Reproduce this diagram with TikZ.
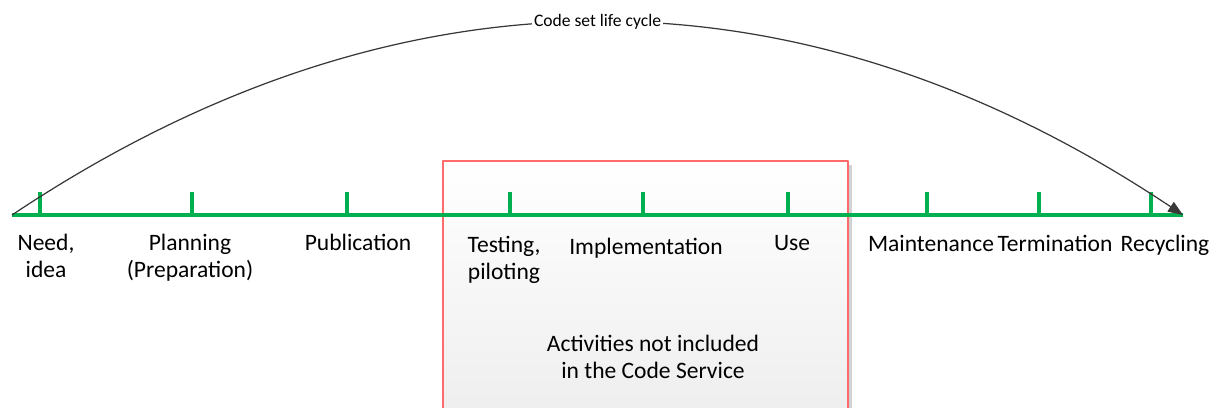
\documentclass[tikz,border=0pt]{standalone}
\usepackage{fontspec}
\setmainfont{Carlito}
\usetikzlibrary{arrows.meta}
\definecolor{lineGreen}{HTML}{00B050}
\definecolor{boxRed}{HTML}{FF6B6B}
\definecolor{arcGray}{HTML}{383838}
\begin{document}
\begin{tikzpicture}[x=0.02cm,y=-0.02cm,line join=round,
    phase/.style={font=\fontsize{13.4}{15}\selectfont,align=center,anchor=base,inner sep=0pt},
    tickmark/.style={draw=lineGreen,line width=2pt},
    timeline/.style={draw=lineGreen,line width=2pt},
    lifearc/.style={draw=arcGray,line width=0.7pt,-{Triangle[length=8.5pt,width=6.5pt]}}]
  \useasboundingbox (0,0) rectangle (1222,408);
  \clip (0,0) rectangle (1222,408);
  % area outside the code service
  \fill[gray!35] (447,165) rectangle (852,430);
  \shadedraw[top color=white,bottom color=gray!14,draw=boxRed,line width=0.6pt] (443,161) rectangle (848,430);
  \node[phase] (excl) at (653,378) {Activities not included\\in the Code Service};
  % timeline
  \coordinate (start) at (12,215);
  \coordinate (end) at (1183,215);
  \draw[timeline] (start) -- (end);
  \foreach \x/\n in {40/need,192/plan,347/pub,510/test,643/impl,788/use,927/maint,1039/term,1151/recyc}{
      \path (\x,215) coordinate (\n);
      \draw[tickmark] (\n) -- ++(0,-23);
  }
  % labels (base = last line)
  \foreach \x/\y/\n/\t in {46/277/needL/{Need,\\idea},190/277/planL/{Planning\\(Preparation)},
    358/251/pubL/Publication,504/279/testL/{Testing,\\piloting},646/255/implL/Implementation,
    792/251/useL/Use,931/252/maintL/Maintenance,1055/252/termL/Termination,1165/252/recycL/Recycling}{
      \node[phase] (\n) at (\x,\y) {\t};
  }
  % life cycle arc
  \draw[lifearc] (start) .. controls (397,-42) and (798,-42) .. (end)
    node[pos=0.5,fill=white,inner sep=1pt,font=\fontsize{10}{12}\selectfont] (cycle) {Code set life cycle};
\end{tikzpicture}
\end{document}
